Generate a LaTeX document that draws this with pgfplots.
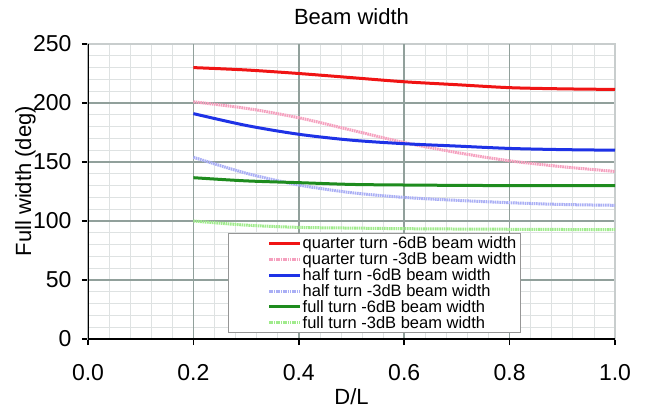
\documentclass[border=0pt]{standalone}
\usepackage{pgfplots}
\pgfplotsset{compat=1.18}
\usepackage{fontspec}
\setmainfont{Liberation Sans}
\definecolor{majgrid}{RGB}{145,160,155}
\definecolor{mingrid}{RGB}{222,226,226}
\definecolor{frame}{RGB}{200,205,205}
\definecolor{cred}{RGB}{240,20,20}
\definecolor{cpink}{RGB}{245,160,190}
\definecolor{cblue}{RGB}{30,50,230}
\definecolor{clblue}{RGB}{170,175,245}
\definecolor{cgreen}{RGB}{30,140,30}
\definecolor{clgreen}{RGB}{160,235,140}
\begin{document}
\begin{tikzpicture}
\begin{axis}[
  scale only axis,
  width=527pt, height=295pt,
  xmin=0, xmax=1, ymin=0, ymax=250,
  xtick={0,0.2,...,1.0}, ytick={0,50,...,250},
  minor x tick num=4, minor y tick num=4,
  minor tick length=0pt,
  grid=both,
  major grid style={color=majgrid, line width=1.6pt},
  minor grid style={color=mingrid, line width=0.7pt},
  extra x ticks={0.2,0.4,0.6,0.8},
  extra x tick labels={},
  extra x tick style={grid=major, major grid style={color=majgrid, line width=1.6pt}, major tick length=0pt},
  axis line style={color=frame, line width=1.5pt},
  tick pos=left, tick align=outside,
  major tick length=6pt,
  every tick/.style={black, line width=1.5pt},
  /pgf/number format/assume math mode=true,
  tick label style={font=\fontsize{23}{26}\selectfont},
  xticklabel style={yshift=-16pt, /pgf/number format/.cd, fixed, fixed zerofill, precision=1},
  yticklabel style={xshift=-7pt},
  title={Beam width},
  title style={font=\fontsize{22}{26}\selectfont, at={(axis description cs:0.5,1)}, anchor=base, yshift=14pt},
  xlabel={D/L},
  xlabel style={font=\fontsize{22}{26}\selectfont, at={(axis description cs:0.5,0)}, anchor=base, yshift=-65pt},
  ylabel={Full width (deg)},
  ylabel style={font=\fontsize{22}{26}\selectfont, at={(axis description cs:-0.108,0.535)}, anchor=base, rotate=0},
  legend cell align=left,
  legend style={at={(rel axis cs:0.266,0.359)}, anchor=north west,
    draw={rgb,255:red,150;green,150;blue,150}, line width=1pt, fill=white,
    font=\fontsize{16.5}{16.5}\selectfont, inner xsep=3pt, inner ysep=2pt,
    nodes={inner ysep=1.2pt, inner xsep=1pt}},
  legend image code/.code={\path (-36pt,0pt); \draw[#1] (0pt,0pt) -- (31pt,0pt);},
]
\addplot[cred, line width=3pt, smooth] coordinates {(0.2,230)(0.3,228)(0.4,225)(0.5,221.5)(0.6,218)(0.7,215.5)(0.8,213)(0.9,212)(1.0,211.5)};
\addlegendentry{quarter turn -6dB beam width}
\addplot[cpink, line width=3pt, smooth, dash pattern=on 1.6pt off 0.7pt] coordinates {(0.2,201)(0.3,195.5)(0.4,187.5)(0.5,177)(0.6,166.5)(0.7,158)(0.8,151)(0.9,146)(1.0,142)};
\addlegendentry{quarter turn -3dB beam width}
\addplot[cblue, line width=3pt, smooth] coordinates {(0.2,191)(0.3,181)(0.4,173.5)(0.5,168.5)(0.6,165.5)(0.7,163.5)(0.8,161.5)(0.9,160.5)(1.0,160)};
\addlegendentry{half turn -6dB beam width}
\addplot[clblue, line width=3pt, smooth, dash pattern=on 1.6pt off 0.7pt] coordinates {(0.2,154)(0.3,140.5)(0.4,130.5)(0.5,124)(0.6,120)(0.7,117.5)(0.8,115.5)(0.9,114)(1.0,113.3)};
\addlegendentry{half turn -3dB beam width}
\addplot[cgreen, line width=3pt, smooth] coordinates {(0.2,136.7)(0.3,134)(0.4,132.5)(0.5,131)(0.6,130.5)(0.7,130.2)(0.8,130)(0.9,130)(1.0,130)};
\addlegendentry{full turn -6dB beam width}
\addplot[clgreen, line width=3pt, smooth, dash pattern=on 1.6pt off 0.7pt] coordinates {(0.2,100)(0.3,96.5)(0.4,94.6)(0.5,94)(0.6,93.5)(0.7,93.2)(0.8,93)(0.9,92.8)(1.0,92.8)};
\addlegendentry{full turn -3dB beam width}
\draw[black, line width=1.5pt] (rel axis cs:0,1) -- (rel axis cs:0,0) -- (rel axis cs:1,0);
\end{axis}
\pgfresetboundingbox
\path[use as bounding box] (-88pt,-71pt) rectangle (560pt,339pt);
\end{tikzpicture}
\end{document}
